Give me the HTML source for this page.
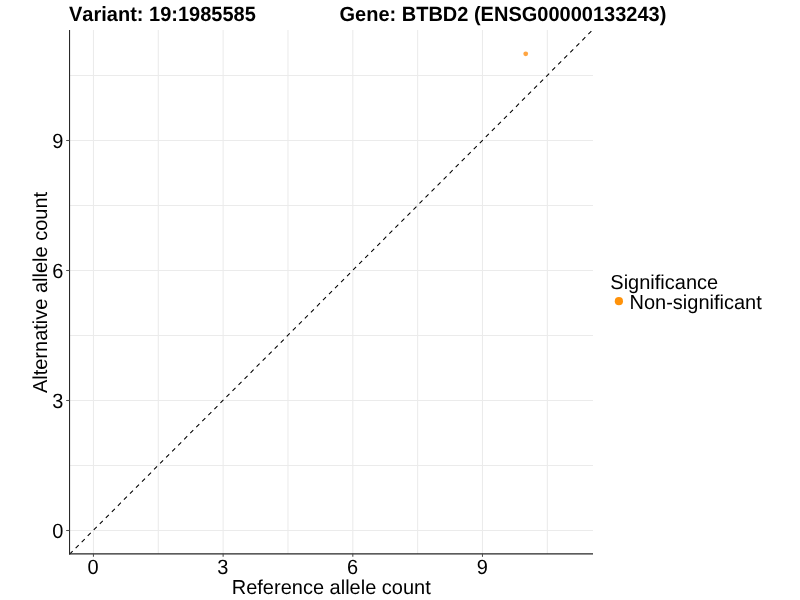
<!DOCTYPE html>
<html><head><meta charset="utf-8"><style>
html,body{margin:0;padding:0;background:#fff;width:800px;height:600px;overflow:hidden}
svg{display:block}
text{text-rendering:geometricPrecision;font-kerning:none;font-feature-settings:"kern" 0;font-family:"Liberation Sans",sans-serif;font-size:20px;fill:#000}
.t{will-change:transform}
</style></head><body>
<svg width="800" height="600" viewBox="0 0 800 600">
<rect width="800" height="600" fill="#fff"/>
<g stroke="#ebebeb" stroke-width="1.07" fill="none">
<line x1="158.29" y1="29.90" x2="158.29" y2="553.90"/>
<line x1="69.50" y1="465.50" x2="593.00" y2="465.50"/>
<line x1="287.97" y1="29.90" x2="287.97" y2="553.90"/>
<line x1="69.50" y1="335.50" x2="593.00" y2="335.50"/>
<line x1="417.65" y1="29.90" x2="417.65" y2="553.90"/>
<line x1="69.50" y1="205.50" x2="593.00" y2="205.50"/>
<line x1="547.33" y1="29.90" x2="547.33" y2="553.90"/>
<line x1="69.50" y1="75.50" x2="593.00" y2="75.50"/>
<line x1="93.45" y1="29.90" x2="93.45" y2="553.90"/>
<line x1="69.50" y1="530.50" x2="593.00" y2="530.50"/>
<line x1="223.13" y1="29.90" x2="223.13" y2="553.90"/>
<line x1="69.50" y1="400.50" x2="593.00" y2="400.50"/>
<line x1="352.81" y1="29.90" x2="352.81" y2="553.90"/>
<line x1="69.50" y1="270.50" x2="593.00" y2="270.50"/>
<line x1="482.49" y1="29.90" x2="482.49" y2="553.90"/>
<line x1="69.50" y1="140.50" x2="593.00" y2="140.50"/>
</g>
<line x1="69.62" y1="554.13" x2="592.71" y2="29.84" stroke="#000" stroke-width="1.067" stroke-dasharray="4.27 4.27" stroke-linecap="butt"/>
<circle cx="525.72" cy="53.84" r="2.4" fill="#ff9520" fill-opacity="0.85"/>
<g stroke="#262626" stroke-width="1.067" fill="none" stroke-linecap="butt">
<line x1="69.55" y1="29.90" x2="69.55" y2="554.38"/>
<line x1="69.02" y1="553.85" x2="593.00" y2="553.85"/>
</g>
<g stroke="#4d4d4d" stroke-width="1.067">
<line x1="93.45" y1="553.85" x2="93.45" y2="556.85"/>
<line x1="66.15" y1="530.50" x2="69.55" y2="530.50"/>
<line x1="223.13" y1="553.85" x2="223.13" y2="556.85"/>
<line x1="66.15" y1="400.50" x2="69.55" y2="400.50"/>
<line x1="352.81" y1="553.85" x2="352.81" y2="556.85"/>
<line x1="66.15" y1="270.50" x2="69.55" y2="270.50"/>
<line x1="482.49" y1="553.85" x2="482.49" y2="556.85"/>
<line x1="66.15" y1="140.50" x2="69.55" y2="140.50"/>
</g>
<g class="t" fill="#000">
<text transform="translate(93.15,573.55) scale(1,1.03)" text-anchor="middle">0</text>
<text transform="translate(63.35,537.70) scale(1,1.03)" text-anchor="end">0</text>
<text transform="translate(222.83,573.55) scale(1,1.03)" text-anchor="middle">3</text>
<text transform="translate(63.35,407.70) scale(1,1.03)" text-anchor="end">3</text>
<text transform="translate(352.51,573.55) scale(1,1.03)" text-anchor="middle">6</text>
<text transform="translate(63.35,277.70) scale(1,1.03)" text-anchor="end">6</text>
<text transform="translate(482.19,573.55) scale(1,1.03)" text-anchor="middle">9</text>
<text transform="translate(63.35,147.70) scale(1,1.03)" text-anchor="end">9</text>
<text transform="translate(69.00,20.80) scale(1,1.03)" font-weight="bold">Variant: 19:1985585</text>
<text transform="translate(339.50,20.80) scale(1,1.03)" font-weight="bold">Gene: BTBD2 (ENSG00000133243)</text>
<text transform="translate(331.25,593.60) scale(1,1.01)" text-anchor="middle">Reference allele count</text>
<text transform="translate(46.50,292.50) rotate(-90) scale(1,1.01)" text-anchor="middle">Alternative allele count</text>
<text transform="translate(610.30,289.10) scale(1,1.01)">Significance</text>
<text transform="translate(629.50,308.90) scale(1,1.01)">Non-significant</text>
</g>
<circle cx="618.9" cy="301.2" r="4.1" fill="#ff920a"/>
</svg>
</body></html>
